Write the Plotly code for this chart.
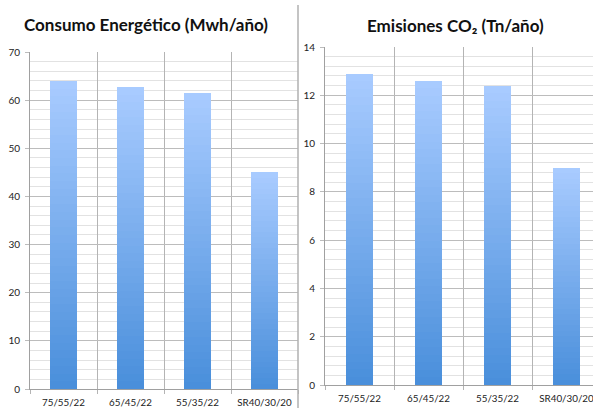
import plotly.graph_objects as go

categories = ["75/55/22", "65/45/22", "55/35/22", "SR40/30/20"]
consumo = [64.0, 62.7, 61.5, 45.0]
emisiones = [12.9, 12.6, 12.4, 9.0]
title_left = "Consumo Energético (Mwh/año)"
title_right = "Emisiones CO₂ (Tn/año)"

W, H = 593, 408
top_rgb = (168, 203, 255)
bot_rgb = (74, 143, 219)
N = 40

fig = go.Figure()

def add_gradient_bars(vals, xa, ya):
    for k in range(N):
        t = k / (N - 1)
        c = tuple(round(top_rgb[i] + (bot_rgb[i] - top_rgb[i]) * t) for i in range(3))
        fig.add_trace(go.Bar(
            x=categories, y=[v * (1 - k / N) for v in vals],
            xaxis=xa, yaxis=ya, width=0.4,
            marker=dict(color="rgb(%d,%d,%d)" % c, line=dict(width=0)),
            showlegend=False, hoverinfo="skip"))

add_gradient_bars(consumo, "x", "y")
add_gradient_bars(emisiones, "x2", "y2")

tickfont = dict(family="Lato, Open Sans, sans-serif", size=10, color="#222222")
xfont = dict(family="Lato, Open Sans, sans-serif", size=9.8, color="#222222")

def xaxis(domain, rng):
    return dict(domain=domain, type="category", range=rng, tickson="boundaries",
                showgrid=True, gridcolor="#b4b4b4", gridwidth=1,
                ticks="outside", ticklen=4, tickcolor="#b4b4b4",
                showline=True, linecolor="#a0a0a0", linewidth=1,
                tickfont=xfont, fixedrange=True, tickangle=0, automargin=False,
                ticklabelstandoff=4)

def yaxis(domain, rng, dtick, minor, anchor):
    return dict(domain=domain, range=rng, dtick=dtick, anchor=anchor,
                showgrid=True, gridcolor="#bcbcbc", gridwidth=1,
                minor=dict(dtick=minor, showgrid=True, gridcolor="#e2e2e2", gridwidth=1),
                ticks="outside", ticklen=4, tickcolor="#bcbcbc",
                showline=True, linecolor="#a0a0a0", linewidth=1,
                zeroline=False, tickfont=tickfont, ticklabelstandoff=3,
                automargin=False, fixedrange=True)

fig.update_layout(
    width=W, height=H, barmode="overlay", bargap=0,
    margin=dict(l=0, r=0, t=0, b=0, autoexpand=False),
    paper_bgcolor="white", plot_bgcolor="white",
    xaxis=xaxis([30 / W, 298 / W], [-0.5, 3.5]) | dict(anchor="y"),
    yaxis=yaxis([19 / H, 356 / H], [0, 70], 10, 2, "x"),
    xaxis2=xaxis([325 / W, 1], [-0.5, -0.5 + 268 / 69]) | dict(anchor="y2"),
    yaxis2=yaxis([23 / H, 361 / H], [0, 14], 2, 0.4, "x2"),
    shapes=[dict(type="line", xref="paper", yref="paper",
                 x0=298 / W, x1=298 / W, y0=0, y1=(H - 5) / H,
                 line=dict(color="#b0b0b0", width=1.5))],
    annotations=[
        dict(text="<b>%s</b>" % title_left, xref="paper", yref="paper",
             x=146 / W, y=1 - 24 / H, xanchor="center", yanchor="middle",
             showarrow=False, font=dict(family="Lato, Open Sans, sans-serif", size=17, color="#111111")),
        dict(text="<b>%s</b>" % title_right, xref="paper", yref="paper",
             x=456 / W, y=1 - 25 / H, xanchor="center", yanchor="middle",
             showarrow=False, font=dict(family="Lato, Open Sans, sans-serif", size=17, color="#111111")),
    ],
)

fig.write_html("out.html", config={"displayModeBar": False},
               post_script="document.body.style.margin='0';document.body.style.overflow='hidden';")
